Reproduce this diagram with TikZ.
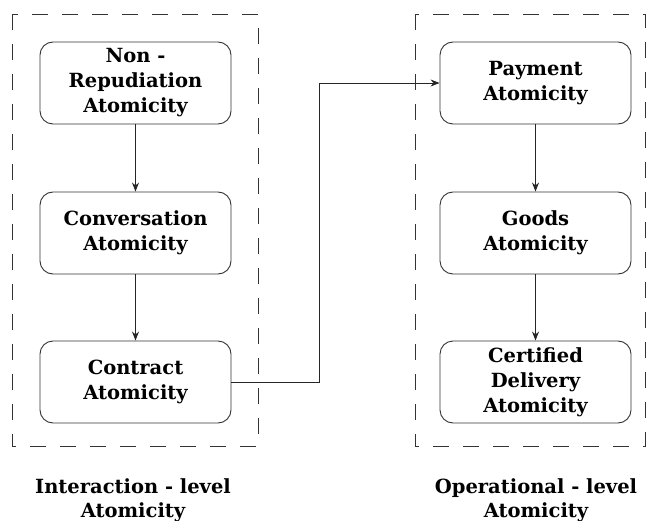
\documentclass[tikz,border=0pt]{standalone}
\usepackage{fontspec}
\setmainfont{DejaVu Serif}
\usetikzlibrary{arrows.meta}
\begin{document}
\begin{tikzpicture}[x=1pt,y=-1pt,
  box/.style={draw=black!80, line width=0.9pt, rounded corners=13pt, minimum width=191pt, minimum height=82pt, align=center, font=\bfseries\fontsize{19.5}{25}\selectfont, inner sep=0pt},
  grp/.style={draw=black!80, line width=0.9pt, dash pattern=on 16pt off 14pt},
  conn/.style={draw=black!85, line width=0.8pt, -{Stealth[length=9pt,width=7pt]}},
  lbl/.style={align=center, font=\bfseries\fontsize{19.5}{24}\selectfont}]
\useasboundingbox (0,0) rectangle (647,521);
\draw[grp] (12,14) rectangle (258,446);
\draw[grp] (415,14) rectangle (645,446);
\node[box] (nr) at (135.5,83) {Non -\\Repudiation\\Atomicity};
\node[box] (cv) at (135.5,233) {Conversation\\Atomicity};
\node[box] (ct) at (135.5,382) {Contract\\Atomicity};
\node[box] (pa) at (535.5,83) {Payment\\Atomicity};
\node[box] (go) at (535.5,233) {Goods\\Atomicity};
\node[box] (cd) at (535.5,382) {Certified\\Delivery\\Atomicity};
\draw[conn] (nr) -- (cv);
\draw[conn] (cv) -- (ct);
\draw[conn] (pa) -- (go);
\draw[conn] (go) -- (cd);
\coordinate (bend) at (319,382);
\draw[conn] (ct.east) -- (bend) |- (pa.west);
\node[lbl] (il) at (133,500) {Interaction - level\\Atomicity};
\node[lbl] (ol) at (536,500) {Operational - level\\Atomicity};
\end{tikzpicture}
\end{document}
